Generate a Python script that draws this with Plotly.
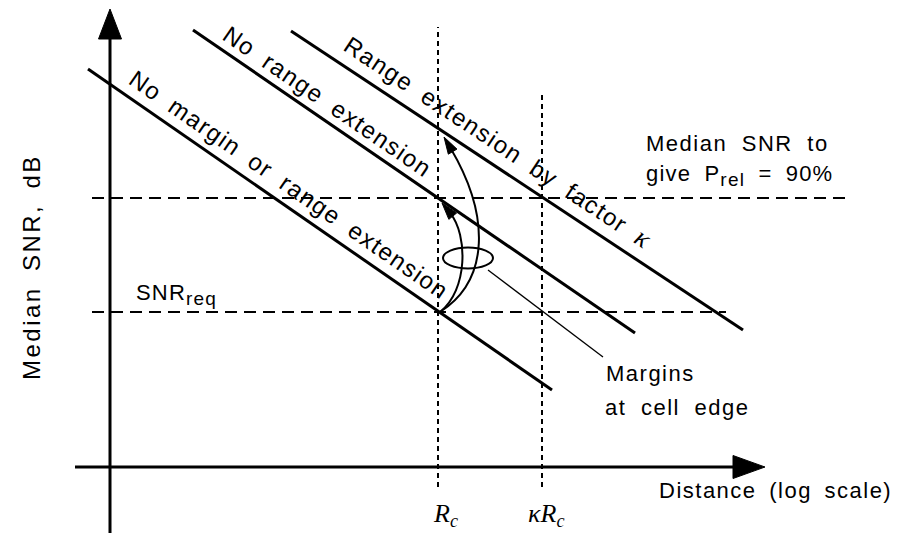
import math
import plotly.graph_objects as go

# ---- diagram data (plot units: x = log distance, y = median SNR) ----
canvas_w, canvas_h = 904, 533
axis_x, axis_y = 110, 66               # where the two axes cross
x_axis_span = [75, 765]                # left end, arrow tip
y_axis_span = [0, 524]                 # bottom end, arrow tip

cell_edge_x = [438, 542]               # R_c and kappa*R_c
cell_edge_top = [506, 438]
cell_edge_bottom = 46
cell_edge_labels = ["<i>R</i><sub><i>c</i></sub>", "<i>κR</i><sub><i>c</i></sub>"]
cell_edge_label_x = [445, 546]

snr_levels = [221, 335]                # SNR_req, SNR for P_rel = 90 %
snr_level_x0 = [92, 92]
snr_level_x1 = [726, 845]

line_names = ["No margin or range extension",
              "No range extension",
              "Range extension by factor <span style=\"font-family:'Liberation Serif';font-size:27px\"><i>κ</i></span>"]
line_x0 = [88, 193, 291]
line_y0 = [464, 503, 502]
line_x1 = [552, 635, 743]
line_y1 = [143, 200, 203]
label_foot_x = [278, 318, 486]
label_offset = [19, 17, 22]

# margin arrows: cubic Bezier control points (start, c1, c2, tip)
margin_arrows = [
    [(440, 221), (468, 243), (468, 298), (442, 330)],
    [(440, 221), (490, 253), (490, 318), (444, 396)],
]
margin_ellipse = dict(cx=468, cy=275, rx=25, ry=10.5)
leader = [(488, 263), (603, 176)]

INK = "#000000"
SANS = "Arial, 'Liberation Sans', sans-serif"
SERIF = "'Times New Roman', 'Liberation Serif', serif"
SUB = '<sub><span style="font-size:19px">{}</span></sub>'

fig = go.Figure()
shapes = []
annotations = []


def seg(x0, y0, x1, y1, width, dash="solid"):
    shapes.append(dict(type="line", xref="x", yref="y", x0=x0, y0=y0, x1=x1, y1=y1,
                       line=dict(color=INK, width=width, dash=dash)))


def triangle(tip, direction, length, half):
    dx, dy = direction
    n = math.hypot(dx, dy)
    ux, uy = dx / n, dy / n
    bx, by = tip[0] - ux * length, tip[1] - uy * length
    px, py = -uy * half, ux * half
    path = "M {:.2f},{:.2f} L {:.2f},{:.2f} L {:.2f},{:.2f} Z".format(
        tip[0], tip[1], bx + px, by + py, bx - px, by - py)
    shapes.append(dict(type="path", xref="x", yref="y", path=path,
                       fillcolor=INK, line=dict(color=INK, width=1)))


def label(text, x, y, size, family=SANS, xanchor="left", angle=0, ls=1.5, ws=7):
    if ls or ws:
        text = '<span style="letter-spacing:{}px;word-spacing:{}px">{}</span>'.format(ls, ws, text)
    annotations.append(dict(text=text, x=x, y=y, xref="x", yref="y", showarrow=False,
                            xanchor=xanchor, yanchor="middle",
                            align=xanchor if xanchor != "center" else "center",
                            textangle=angle, font=dict(family=family, size=size, color=INK)))


# axes with arrow heads
seg(x_axis_span[0], axis_y, x_axis_span[1] - 20, axis_y, 3)
seg(axis_x, y_axis_span[0], axis_x, y_axis_span[1] - 20, 3)
triangle((x_axis_span[1], axis_y), (1, 0), 32, 11.5)
triangle((axis_x, y_axis_span[1]), (0, 1), 30, 11.5)

# reference levels and cell-edge distances
for lvl, a, b in zip(snr_levels, snr_level_x0, snr_level_x1):
    seg(a, lvl, b, lvl, 2, dash="12px,7px")
for xe, top in zip(cell_edge_x, cell_edge_top):
    seg(xe, cell_edge_bottom, xe, top, 2, dash="5px,4px")

# median SNR versus distance lines
for x0, y0, x1, y1 in zip(line_x0, line_y0, line_x1, line_y1):
    seg(x0, y0, x1, y1, 3)

# margin arrows
for p0, p1, p2, p3 in margin_arrows:
    tip_back = 13
    d = (p3[0] - p2[0], p3[1] - p2[1])
    n = math.hypot(*d)
    end = (p3[0] - d[0] / n * tip_back, p3[1] - d[1] / n * tip_back)
    path = "M {},{} C {},{} {},{} {:.2f},{:.2f}".format(p0[0], p0[1], p1[0], p1[1], p2[0], p2[1], end[0], end[1])
    shapes.append(dict(type="path", xref="x", yref="y", path=path, line=dict(color=INK, width=2)))
    triangle(p3, d, 17, 5)

e = margin_ellipse
shapes.append(dict(type="circle", xref="x", yref="y", x0=e["cx"] - e["rx"], x1=e["cx"] + e["rx"],
                   y0=e["cy"] - e["ry"], y1=e["cy"] + e["ry"], line=dict(color=INK, width=2)))
seg(leader[0][0], leader[0][1], leader[1][0], leader[1][1], 1.3)

# labels
for txt, lx in zip(cell_edge_labels, cell_edge_label_x):
    label(txt, lx, 18, 26, family=SERIF, xanchor="center", ls=0, ws=0)
label("Median SNR, dB", 31, 266, 24, xanchor="center", angle=-90, ls=2.5, ws=6)
label("Distance (log scale)", 657, 43, 22, ls=1.5, ws=5)
label("Median SNR to", 644, 390, 22)
label("give P" + SUB.format("rel") + " = 90%", 644, 358, 22, ls=1.2, ws=6)
label("SNR" + SUB.format("req"), 134, 239, 22, ls=1.2)
label("Margins", 604, 160, 22)
label("at cell edge", 603, 126, 22)

for name, x0, y0, x1, y1, fx, off in zip(line_names, line_x0, line_y0, line_x1, line_y1,
                                          label_foot_x, label_offset):
    dx, dy = x1 - x0, y1 - y0
    n = math.hypot(dx, dy)
    fy = y0 + (fx - x0) * dy / dx
    nx, ny = -dy / n, dx / n
    ang = math.degrees(math.atan2(-dy, dx))
    label(name, fx + nx * off, fy + ny * off, 24, xanchor="center", angle=ang, ls=1.5, ws=6)

fig.update_layout(
    width=canvas_w, height=canvas_h,
    margin=dict(l=0, r=0, t=0, b=0),
    paper_bgcolor="white", plot_bgcolor="white",
    showlegend=False,
    xaxis=dict(range=[0, canvas_w], visible=False, fixedrange=True),
    yaxis=dict(range=[0, canvas_h], visible=False, fixedrange=True),
    shapes=shapes, annotations=annotations,
)

fig.write_html("out.html", config={"displayModeBar": False})
